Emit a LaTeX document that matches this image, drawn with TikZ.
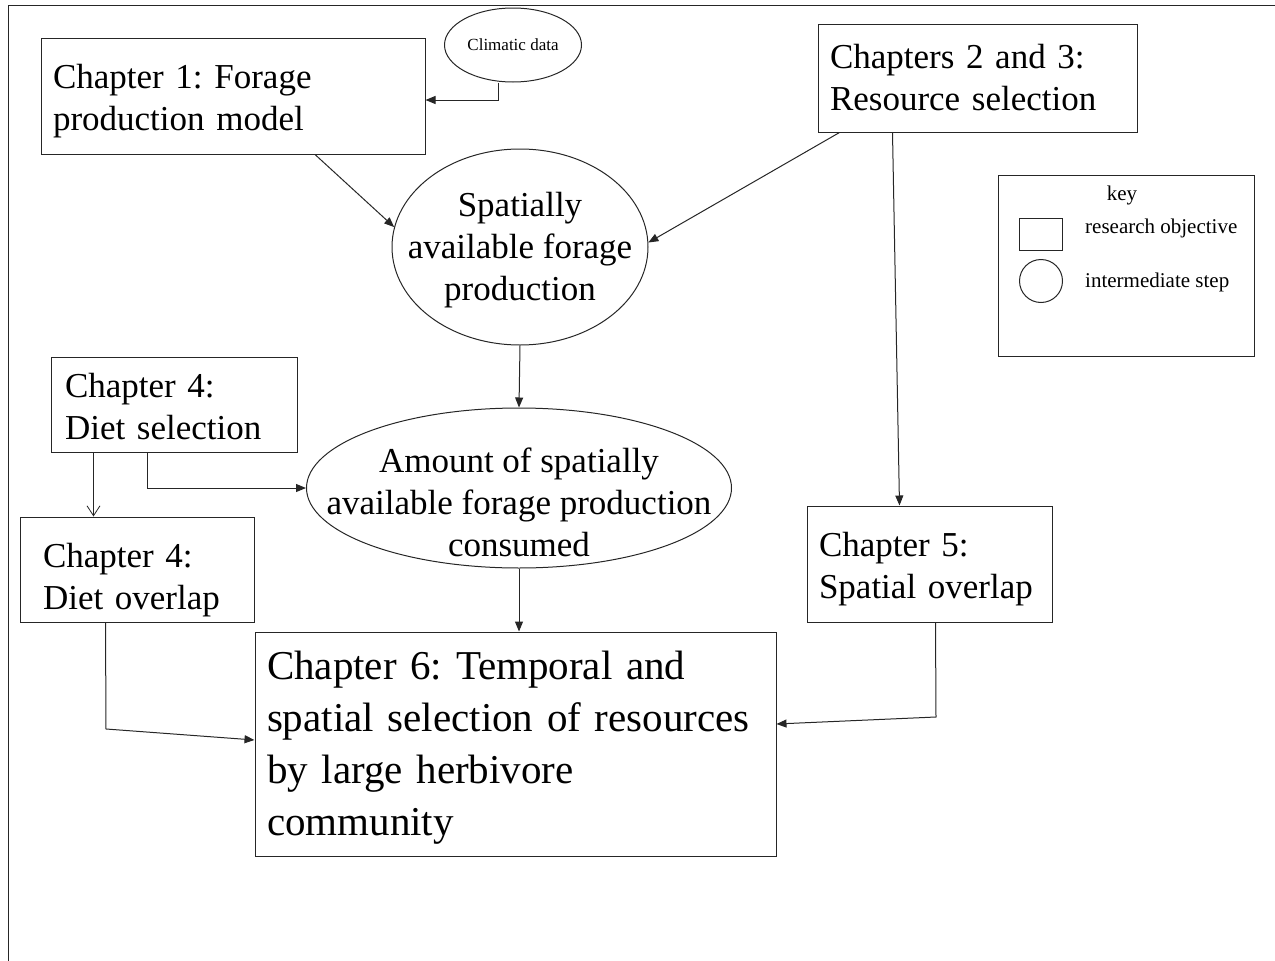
\documentclass[tikz,border=0pt]{standalone}
\usepackage{fontspec}
\setmainfont{Liberation Serif}
\usetikzlibrary{shapes.geometric,arrows.meta}
\frenchspacing
\newcommand\fsBig{\fontsize{35}{42}\selectfont\frenchspacing}
\newcommand\fsHuge{\fontsize{41}{52}\selectfont\frenchspacing}
\newcommand\fsKey{\fontsize{21}{25}\selectfont}
\newcommand\fsClim{\fontsize{17}{20}\selectfont}
\newcommand\lift[1]{\rule{0pt}{#1}}
\tikzset{
  ln/.style={draw=black!85, line width=1pt},
  conn/.style={ln, -{Triangle[length=10pt,width=8pt]}},
  openconn/.style={ln, line width=0.8pt, -{Straight Barb[length=10pt,width=13pt]}},
  objbox/.style={ln, rectangle, inner ysep=0pt, align=left, font=\fsBig},
  stepell/.style={ln, ellipse, inner sep=0pt},
  steptext/.style={align=center, font=\fsBig, inner sep=0pt},
}
\begin{document}
\begin{tikzpicture}[x=1pt,y=-1pt]
\useasboundingbox (0,0) rectangle (1275,961);
% frame
\coordinate (fr1) at (1275,5);
\coordinate (fr2) at (8,5);
\coordinate (fr3) at (8,961);
\draw[ln] (fr1) -- (fr2) -- (fr3);

% boxes
\node[objbox, minimum width=384pt, minimum height=116pt, inner xsep=12pt, text width=360pt] (ch1) at (233,96) {\lift{34pt}Chapter 1: Forage\\production model};
\node[objbox, minimum width=319pt, minimum height=108pt, inner xsep=12pt, text width=295pt] (ch23) at (977.5,78) {Chapters 2 and 3:\\Resource selection};
\node[objbox, minimum width=246pt, minimum height=95pt, inner xsep=14pt, text width=218pt] (ds) at (174,404.5) {\lift{28pt}Chapter 4:\\Diet selection};
\node[objbox, minimum width=234pt, minimum height=105pt, inner xsep=23pt, text width=188pt] (do) at (137,569.5) {\lift{46pt}Chapter 4:\\Diet overlap};
\node[objbox, minimum width=245pt, minimum height=116pt, inner xsep=12pt, text width=221pt] (ch5) at (929.5,564) {\lift{35pt}Chapter 5:\\Spatial overlap};
\node[objbox, font=\fsHuge, minimum width=521pt, minimum height=224pt, inner xsep=12pt, text width=497pt] (ch6) at (515.5,744) {\lift{36pt}Chapter 6: Temporal and\\spatial selection of resources\\by large herbivore\\community};

% ellipses
\node[stepell, minimum width=137pt, minimum height=74pt, font=\fsClim] (clim) at (513,45) {Climatic data};
\node[stepell, minimum width=256pt, minimum height=196pt] (spat) at (520,247) {};
\node[steptext] (spatT) at ([yshift=-3pt]spat.center) {Spatially\\available forage\\production};
\node[stepell, minimum width=425pt, minimum height=160pt] (amt) at (519,488) {};
\node[steptext] (amtT) at ([yshift=-14pt]amt.center) {Amount of spatially\\available forage production\\consumed};

% key
\node[ln, rectangle, minimum width=256pt, minimum height=181pt, inner sep=0pt] (key) at (1126.5,266) {};
\node[font=\fsKey, inner sep=0pt] (keyT) at (1122,195) {key};
\node[ln, rectangle, minimum width=43pt, minimum height=32pt, inner sep=0pt] (keybox) at (1041,234) {};
\node[ln, circle, minimum size=43pt, inner sep=0pt] (keycirc) at (1041,281) {};
\node[font=\fsKey, anchor=west, inner sep=0pt] (keyR) at (1085,228) {research objective};
\node[font=\fsKey, anchor=west, inner sep=0pt] (keyI) at (1085,282) {intermediate step};

% connectors
\draw[conn] ([xshift=-15pt]clim.south) |- ([yshift=-4pt]ch1.east);
\draw[conn] ([xshift=82pt]ch1.south) -- (spat.171);
\draw[conn] ([xshift=22pt]ch23.south west) -- (spat.2);
\draw[conn] (spat.south) -- (amt.north);
\draw[conn] ([xshift=97pt]ds.south west) |- (amt.west);
\draw[openconn] ([xshift=43pt]ds.south west) -- ([xshift=43pt]ds.south west |- do.north);
\draw[conn] ([xshift=75pt]ch23.south west) -- ([xshift=93pt]ch5.north west);
\draw[conn] (amt.south) -- (amt.south |- ch6.north);
\coordinate (b1) at (106,729);
\draw[conn] ([xshift=86pt]do.south west) -- (b1) -- ([yshift=4pt]ch6.west);
\coordinate (b2) at (936,717);
\draw[conn] ([xshift=129pt]ch5.south west) -- (b2) -- ([yshift=20pt]ch6.east);
\end{tikzpicture}
\end{document}
